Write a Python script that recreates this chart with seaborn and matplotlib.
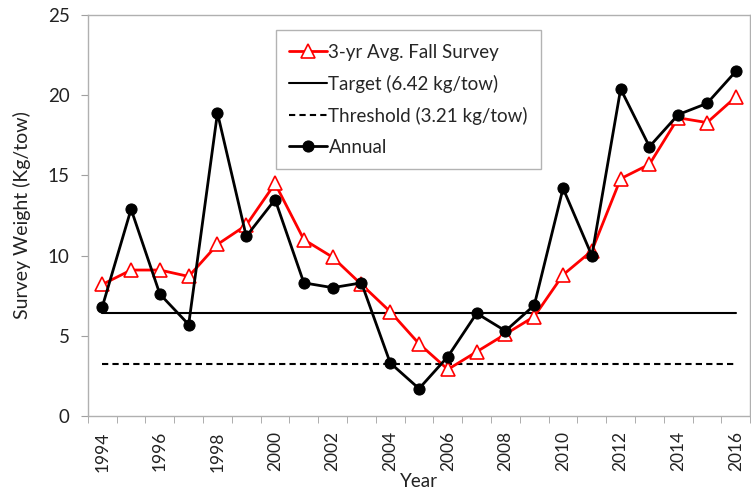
import pandas as pd
import matplotlib.pyplot as plt
import seaborn as sns

years = list(range(1994, 2017))
avg_3yr = [8.2, 9.1, 9.1, 8.7, 10.7, 11.9, 14.5, 11.0, 9.9, 8.2, 6.5, 4.5,
           2.9, 4.0, 5.1, 6.2, 8.8, 10.3, 14.8, 15.7, 18.6, 18.3, 19.9]
annual = [6.8, 12.9, 7.6, 5.7, 18.9, 11.2, 13.5, 8.3, 8.0, 8.3, 3.3, 1.7,
          3.7, 6.4, 5.3, 6.9, 14.2, 10.0, 20.4, 16.8, 18.8, 19.5, 21.5]
target = 6.42
threshold = 3.21

df = pd.DataFrame({'year': years, 'avg': avg_3yr, 'annual': annual,
                   'target': target, 'threshold': threshold})

sns.set_style("white")
plt.rcParams['font.family'] = ['Lato', 'DejaVu Sans']

fig = plt.figure(figsize=(7.51, 4.91), dpi=100)
ax = fig.add_axes([0.117, 0.153, 0.882, 0.816])

sns.lineplot(data=df, x='year', y='avg', ax=ax, color='#ff0000', lw=2,
             marker='^', markersize=10, markerfacecolor='white',
             markeredgecolor='#ff0000', markeredgewidth=1.2,
             label='3-yr Avg. Fall Survey', zorder=3)
sns.lineplot(data=df, x='year', y='target', ax=ax, color='black', lw=1.5,
             label='Target (6.42 kg/tow)', zorder=2)
sns.lineplot(data=df, x='year', y='threshold', ax=ax, color='black', lw=1.5,
             linestyle=(0, (3, 2)), label='Threshold (3.21 kg/tow)', zorder=2)
sns.lineplot(data=df, x='year', y='annual', ax=ax, color='black', lw=2,
             marker='o', markersize=8, markeredgecolor='black',
             label='Annual', zorder=4)

ax.set_xlim(1993.5, 2016.5)
ax.set_ylim(0, 25)
ax.set_yticks([0, 5, 10, 15, 20, 25])
ax.set_xticks(years[::2])
ax.set_xticks([y - 0.5 for y in years] + [2016.5], minor=True)
ax.tick_params(axis='x', which='major', length=0, labelrotation=90,
               labelsize=12.5, pad=11, labelcolor='#222222')
ax.tick_params(axis='x', which='minor', length=5, color='#a0a0a0',
               direction='out', bottom=True)
ax.tick_params(axis='y', length=5, color='#a0a0a0', direction='out',
               left=True, labelsize=13.5, pad=8, labelcolor='#222222')

for s in ax.spines.values():
    s.set_color('#b0b0b0')
    s.set_linewidth(1)

ax.set_xlabel('Year', fontsize=13.5, labelpad=1, color='#222222')
ax.set_ylabel('Survey Weight (Kg/tow)', fontsize=14, labelpad=12,
              color='#222222')

leg = ax.legend(loc='upper left', bbox_to_anchor=(0.284, 0.962),
                fontsize=13.5, frameon=True, fancybox=False,
                edgecolor='#a0a0a0', handlelength=2.0, labelspacing=0.75,
                borderpad=0.7, handletextpad=0.1, borderaxespad=0)
leg.get_frame().set_linewidth(1)

fig.savefig('out.png', dpi=100)
